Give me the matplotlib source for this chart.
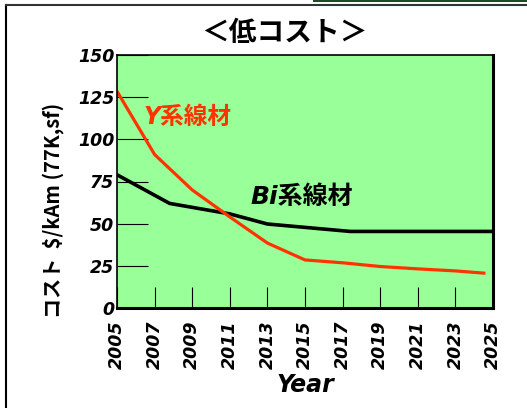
import numpy as np
import matplotlib.pyplot as plt
from matplotlib.patches import Rectangle
from matplotlib.lines import Line2D

plt.rcParams['font.family'] = ['DejaVu Sans', 'Noto Sans CJK JP']

# cost curves, $/kAm (77K, sf)
y_years = [2005, 2007, 2009, 2011, 2013, 2015, 2017, 2019, 2021, 2023, 2024.6]
y_cost = [128.5, 91, 70, 54, 38.5, 28.5, 26.8, 24.6, 23.2, 22, 20.6]

bi_years = [2005, 2007.8, 2011, 2013, 2015, 2017.4, 2025]
bi_cost = [79, 62, 55.8, 49.8, 47.8, 45.4, 45.4]

xticks = list(range(2005, 2026, 2))
yticks = [0, 25, 50, 75, 100, 125, 150]

fig = plt.figure(figsize=(5.27, 4.08), dpi=100)
ax = fig.add_axes([117/527, 1-308/408, 376/527, 253/408])
ax.set_facecolor('#99ff99')

ax.plot(bi_years, bi_cost, color='black', lw=2.6, solid_capstyle='butt')
ax.plot(y_years, y_cost, color='#ff3300', lw=2.3, solid_capstyle='butt')

ax.set_xlim(2005, 2025)
ax.set_ylim(0, 150)
ax.set_xticks(xticks)
ax.set_yticks(yticks)

tick_font = dict(weight='heavy', style='italic', size=12.5)
ax.set_xticklabels([str(t) for t in xticks], rotation=90, **tick_font)
ax.set_yticklabels([str(t) for t in yticks], **tick_font)
ax.tick_params(axis='x', direction='in', length=15, width=0.8, pad=9)
ax.tick_params(axis='y', direction='in', length=22, width=0.8, pad=2)
for s in ax.spines.values():
    s.set_linewidth(1.2)
ax.spines['right'].set_linewidth(2.2)
ax.spines['bottom'].set_linewidth(2.2)

ax.set_xlabel('Year', weight='heavy', style='italic', size=17, labelpad=3)

ax.text(2006.4, 113.5, 'Y系線材', color='#ff3300', weight='bold', style='italic',
        size=17, va='center', family=['DejaVu Sans', 'Noto Sans CJK JP'])
ax.text(2012.1, 66, 'Bi系線材', color='black', weight='bold', style='italic',
        size=18, va='center', family=['DejaVu Sans', 'Noto Sans CJK JP'])

fig.text(53/527, 1-210/408, 'コスト  $/kAm (77K,sf)', rotation=90, ha='center',
         va='center', weight='bold', size=14.5,
         family=['Noto Sans CJK JP', 'DejaVu Sans'])

fig.text(284/527, 1-33/408, '＜低コスト＞', ha='center', va='center',
         weight='bold', size=20, family=['Noto Sans CJK JP', 'DejaVu Sans'])

# outer frame and strip along the top edge
fig.add_artist(Line2D([6/527, 6/527], [0, 1-5/408], transform=fig.transFigure,
                      color='black', lw=1.5))
fig.add_artist(Line2D([6/527, 1], [1-5/408, 1-5/408], transform=fig.transFigure,
                      color='#333333', lw=1.5))
fig.add_artist(Rectangle((313/527, 1-2/408), 1, 2/408, transform=fig.transFigure,
                         color='#1e4a2a', lw=0))

fig.savefig('out.png', dpi=100)
